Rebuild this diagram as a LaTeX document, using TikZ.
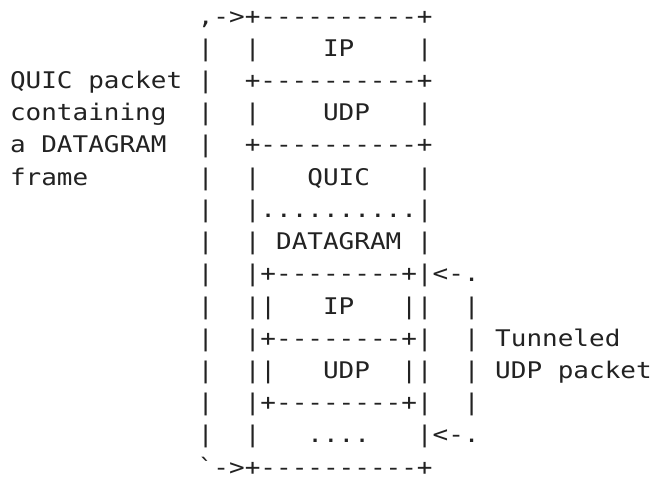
\documentclass[tikz,border=0pt]{standalone}
\usepackage{fontspec}
\setmonofont{DejaVu Sans Mono}
\usepackage{graphicx}
\definecolor{ink}{HTML}{222222}
\tikzset{asc/.style={anchor=base west, inner sep=0pt, outer sep=0pt, text=ink,
  font=\ttfamily\fontsize{19.5pt}{19.5pt}\selectfont}}
\newcommand\yfix[1]{\scalebox{1}[0.881]{#1}}
\begin{document}
\begin{tikzpicture}[x=0.75pt,y=-0.75pt]
\useasboundingbox (0,0) rectangle (650,481);
\node[asc] (l1)  at (10,24.2)  {\yfix{~~~~~~~~~~~~,->+----------+}};
\node[asc] (l2)  at (10,56.4)  {\yfix{~~~~~~~~~~~~|~~|~~~~IP~~~~|}};
\node[asc] (l3)  at (10,88.6)  {\yfix{QUIC~packet~|~~+----------+}};
\node[asc] (l4)  at (10,120.8) {\yfix{containing~~|~~|~~~~UDP~~~|}};
\node[asc] (l5)  at (10,153.0) {\yfix{a~DATAGRAM~~|~~+----------+}};
\node[asc] (l6)  at (10,185.2) {\yfix{frame~~~~~~~|~~|~~~QUIC~~~|}};
\node[asc] (l7)  at (10,217.4) {\yfix{~~~~~~~~~~~~|~~|..........|}};
\node[asc] (l8)  at (10,249.6) {\yfix{~~~~~~~~~~~~|~~|~DATAGRAM~|}};
\node[asc] (l9)  at (10,281.8) {\yfix{~~~~~~~~~~~~|~~|+--------+|<-.}};
\node[asc] (l10) at (10,314.0) {\yfix{~~~~~~~~~~~~|~~||~~~IP~~~||~~|}};
\node[asc] (l11) at (10,346.2) {\yfix{~~~~~~~~~~~~|~~|+--------+|~~|~Tunneled}};
\node[asc] (l12) at (10,378.4) {\yfix{~~~~~~~~~~~~|~~||~~~UDP~~||~~|~UDP~packet}};
\node[asc] (l13) at (10,410.6) {\yfix{~~~~~~~~~~~~|~~|+--------+|~~|}};
\node[asc] (l14) at (10,442.8) {\yfix{~~~~~~~~~~~~|~~|~~~....~~~|<-.}};
\node[asc] (l15) at (10,475.0) {\yfix{~~~~~~~~~~~~\textasciigrave->+----------+}};
\end{tikzpicture}
\end{document}
